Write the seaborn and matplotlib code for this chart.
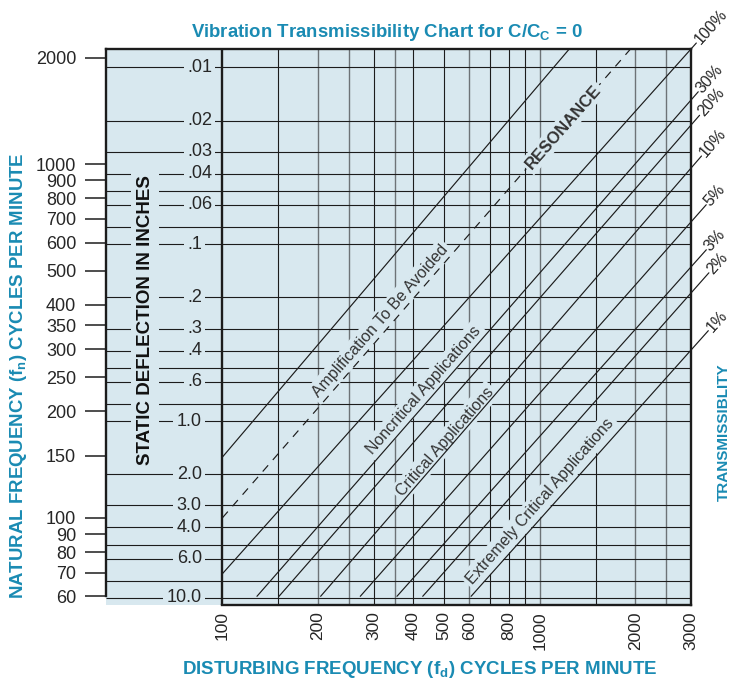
import numpy as np
import pandas as pd
import matplotlib
matplotlib.use("Agg")
import matplotlib.pyplot as plt
import seaborn as sns
from matplotlib.ticker import FixedLocator, FixedFormatter, NullLocator

# ---------------- data ----------------
fn_ticks = [60, 70, 80, 90, 100, 150, 200, 250, 300, 350, 400, 500, 600, 700, 800, 900, 1000, 2000]
fd_ticks = [100, 200, 300, 400, 500, 600, 800, 1000, 2000, 3000]
fd_grid = [150, 200, 250, 300, 350, 400, 500, 600, 700, 800, 900, 1000, 1500, 2000, 2500]
deflection_grid = [.01, .02, .03, .04, .05, .06, .08, .1, .2, .3, .4, .5, .6, .8,
                   1.0, 2.0, 3.0, 4.0, 5.0, 6.0, 8.0, 10.0]
deflection_labels = ['.01', '.02', '.03', '.04', '.06', '.1', '.2', '.3', '.4', '.6',
                     '1.0', '2.0', '3.0', '4.0', '6.0', '10.0']
# lines: (fd, fn) start and end points
line_names = ['amplification', 'resonance', '100%', '30%', '20%', '10%', '5%', '3%', '2%', '1%']
fd_start = [100, 100, 100, 128.5, 150.8, 204, 272, 355, 428, 608]
fn_start = [148.5, 100, 69.5, 60, 60, 60, 60, 60, 60, 60]
fd_end = [1240, 1934, 3000, 3000, 3000, 3000, 3000, 3000, 3000, 3000]
fn_end = [2115, 2115, 2115, 1517, 1289, 974, 686, 512, 432, 298]
region_labels = ['Amplification To Be Avoided', 'Noncritical Applications',
                 'Critical Applications', 'Extremely Critical Applications']

# ---------------- style ----------------
TEAL = '#1a8bb3'
BG = '#d8e8ef'
INK = '#1c1c1c'
GRAY = '#6d7377'
TXT = '#262626'

sns.set_theme(style='white')
plt.rcParams['font.family'] = ['Liberation Sans', 'DejaVu Sans']
plt.rcParams['mathtext.fontset'] = 'custom'
plt.rcParams['mathtext.rm'] = 'Liberation Sans'
plt.rcParams['mathtext.bf'] = 'Liberation Sans:bold'

W, H = 731, 679
fig = plt.figure(figsize=(W / 100, H / 100), dpi=100)
fig.patch.set_facecolor('white')
ax = fig.add_axes([106 / W, 1 - 605 / H, 585 / W, 556 / H])
ax.set_xscale('log')
ax.set_yscale('log')
XMIN, XMAX = 42.96, 3000
YMIN, YMAX = 56.7, 2115
ax.set_xlim(XMIN, XMAX)
ax.set_ylim(YMIN, YMAX)
ax.set_facecolor(BG)

# grid: vertical lines
gray_v = {200, 250, 350, 600, 1000, 2000, 2500}
for v in fd_grid:
    ax.vlines(v, YMIN, YMAX, colors=GRAY if v in gray_v else INK,
              lw=1.0 if v in gray_v else 0.8, zorder=1)
# grid: horizontal static deflection lines
fn_defl = [187.8 / np.sqrt(d) for d in deflection_grid]
for y in fn_defl:
    ax.hlines(y, XMIN, XMAX, colors=INK, lw=0.8, zorder=1)

# borders
ax.vlines(100, YMIN, YMAX, colors=INK, lw=1.7, zorder=5)
for s in ['top', 'left', 'bottom', 'right']:
    ax.spines[s].set_visible(True)
    ax.spines[s].set_color(INK)
    ax.spines[s].set_linewidth(1.7)
    ax.spines[s].set_zorder(6)
ax.spines['left'].set_bounds(60, YMAX)
ax.spines['bottom'].set_bounds(100, XMAX)

# diagonal lines via seaborn
rows = []
for n, a, b, c, d in zip(line_names, fd_start, fn_start, fd_end, fn_end):
    rows.append((n, a, b, 0))
    rows.append((n, c, d, 1))
df = pd.DataFrame(rows, columns=['line', 'fd', 'fn', 'k'])
sns.lineplot(data=df[df.line != 'resonance'], x='fd', y='fn', units='line',
             estimator=None, sort=False, color=INK, linewidth=0.85,
             legend=False, ax=ax, zorder=3)
sns.lineplot(data=df[df.line == 'resonance'], x='fd', y='fn', units='line',
             estimator=None, sort=False, color=INK, linewidth=0.85,
             linestyle=(0, (7, 6)), legend=False, ax=ax, zorder=3)
ax.set_xlim(XMIN, XMAX)
ax.set_ylim(YMIN, YMAX)
ax.set_xlabel('')
ax.set_ylabel('')

# ticks
ax.yaxis.set_major_locator(FixedLocator(fn_ticks))
ax.yaxis.set_major_formatter(FixedFormatter([str(v) for v in fn_ticks]))
ax.yaxis.set_minor_locator(NullLocator())
ax.xaxis.set_major_locator(FixedLocator(fd_ticks))
ax.xaxis.set_major_formatter(FixedFormatter([str(v) for v in fd_ticks]))
ax.xaxis.set_minor_locator(NullLocator())
ax.tick_params(axis='y', which='major', left=True, length=15, width=1.1, color=INK,
               pad=6.5, labelsize=13, labelcolor=TXT, direction='out')
ax.tick_params(axis='x', which='major', bottom=True, length=0, pad=4.5,
               labelsize=12.5, labelcolor=TXT, labelrotation=90)

# angle of lines in display space
T = ax.transData
p0 = T.transform((100, 100))
p1 = T.transform((1000, 1000))
ang = np.degrees(np.arctan2(p1[1] - p0[1], p1[0] - p0[0])) + 0.6

# static deflection labels
for lab in deflection_labels:
    y = 187.8 / np.sqrt(float(lab))
    if lab.startswith('.'):
        ax.text(77.3, y, lab, ha='left', va='center', fontsize=13, color=TXT, zorder=2,
                clip_on=True, bbox=dict(boxstyle='square,pad=0.15', fc=BG, ec='none'))
    else:
        ax.text(86.1, y, lab, ha='right', va='center', fontsize=13, color=TXT, zorder=2,
                clip_on=True, bbox=dict(boxstyle='square,pad=0.2', fc=BG, ec='none'))

fig.text(145 / W, 1 - 320 / H, 'STATIC DEFLECTION IN INCHES', rotation=90,
         ha='center', va='center', fontsize=13.5, fontweight='bold', color='#111111',
         zorder=3, bbox=dict(boxstyle='square,pad=0.3', fc=BG, ec='none'))

# region labels on the chart
region_pos = [(313.9, 359.6), (432.5, 229.6), (503.3, 163.9), (1003.6, 111.4)]
for lab, (x, y) in zip(region_labels, region_pos):
    ax.text(x, y, lab, rotation=ang, rotation_mode='anchor', ha='center', va='center',
            fontsize=11.5, color='#333333', zorder=2,
            bbox=dict(boxstyle='square,pad=0.2', fc=BG, ec='none'))
ax.text(1186, 1272, 'RESONANCE', rotation=ang, rotation_mode='anchor', ha='center',
        va='center', fontsize=12, fontweight='bold', color='#333333', zorder=4,
        bbox=dict(boxstyle='square,pad=0.15', fc=BG, ec='none'))

# transmissibility leaders and labels
leader_len = {'100%': 8, '30%': 11, '20%': 13, '10%': 16, '5%': 23, '3%': 23, '2%': 27, '1%': 26}
inv = T.inverted()
for n, a, b, c, d in zip(line_names, fd_start, fn_start, fd_end, fn_end):
    if n not in leader_len:
        continue
    q0 = T.transform((a, b))
    q1 = T.transform((c, d))
    u = (q1 - q0) / np.hypot(*(q1 - q0))
    qe = q1 + u * leader_len[n]
    e = inv.transform(qe)
    ax.plot([c, e[0]], [d, e[1]], color=INK, lw=0.85, clip_on=False, zorder=3)
    qt = inv.transform(qe + u * 1.5)
    ax.text(qt[0], qt[1], n, rotation=np.degrees(np.arctan2(u[1], u[0])),
            rotation_mode='anchor', ha='left', va='center', fontsize=11.5,
            color=TXT, clip_on=False)

# titles / axis labels
fig.text(387 / W, 1 - 37 / H, r'Vibration Transmissibility Chart for C/C$_\mathbf{C}$ = 0',
         ha='center', va='baseline', fontsize=13.4, fontweight='bold', color=TEAL)
fig.text(420 / W, 1 - 673.5 / H, r'DISTURBING FREQUENCY (f$_\mathbf{d}$) CYCLES PER MINUTE',
         ha='center', va='baseline', fontsize=13.5, fontweight='bold', color=TEAL)
fig.text(23.5 / W, 1 - 376 / H, r'NATURAL FREQUENCY (f$_\mathbf{n}$) CYCLES PER MINUTE',
         rotation=90, rotation_mode='anchor', ha='center', va='baseline',
         fontsize=13.4, fontweight='bold', color=TEAL)
fig.text(728 / W, 1 - 432 / H, 'TRANSMISSIBLITY', rotation=90, rotation_mode='anchor',
         ha='center', va='baseline', fontsize=11, fontweight='bold', color=TEAL)

fig.savefig('out.png', dpi=100, facecolor='white')
